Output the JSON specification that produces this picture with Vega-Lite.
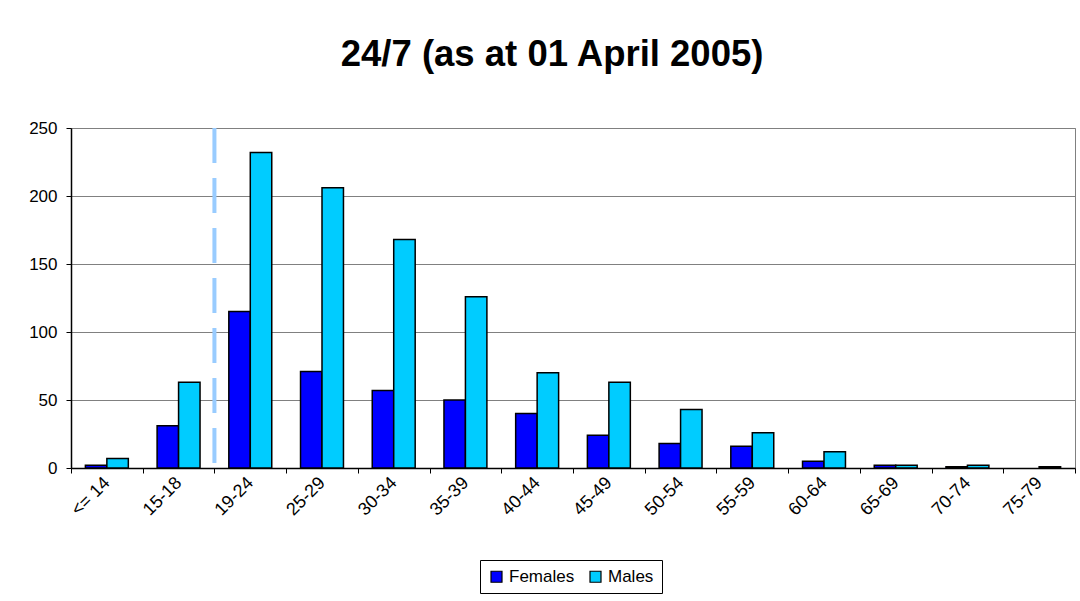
{
  "$schema": "https://vega.github.io/schema/vega-lite/v6.json",
  "width": 1004,
  "height": 340,
  "autosize": {"type": "none"},
  "padding": {"left": 71, "top": 128, "right": 5, "bottom": 133},
  "background": "white",
  "title": {
    "text": "24/7 (as at 01 April 2005)",
    "font": "Liberation Sans",
    "fontSize": 36.5,
    "fontWeight": "bold",
    "color": "black",
    "anchor": "middle",
    "frame": "bounds",
    "offset": 46
  },
  "config": {
    "view": {"stroke": "#808080", "strokeWidth": 1},
    "font": "Liberation Sans"
  },
  "layer": [
    {
      "data": {
        "values": [
          {"cat": "<= 14", "sex": "Females", "n": 2},
          {"cat": "<= 14", "sex": "Males", "n": 7},
          {"cat": "15-18", "sex": "Females", "n": 31},
          {"cat": "15-18", "sex": "Males", "n": 63},
          {"cat": "19-24", "sex": "Females", "n": 115},
          {"cat": "19-24", "sex": "Males", "n": 232},
          {"cat": "25-29", "sex": "Females", "n": 71},
          {"cat": "25-29", "sex": "Males", "n": 206},
          {"cat": "30-34", "sex": "Females", "n": 57},
          {"cat": "30-34", "sex": "Males", "n": 168},
          {"cat": "35-39", "sex": "Females", "n": 50},
          {"cat": "35-39", "sex": "Males", "n": 126},
          {"cat": "40-44", "sex": "Females", "n": 40},
          {"cat": "40-44", "sex": "Males", "n": 70},
          {"cat": "45-49", "sex": "Females", "n": 24},
          {"cat": "45-49", "sex": "Males", "n": 63},
          {"cat": "50-54", "sex": "Females", "n": 18},
          {"cat": "50-54", "sex": "Males", "n": 43},
          {"cat": "55-59", "sex": "Females", "n": 16},
          {"cat": "55-59", "sex": "Males", "n": 26},
          {"cat": "60-64", "sex": "Females", "n": 5},
          {"cat": "60-64", "sex": "Males", "n": 12},
          {"cat": "65-69", "sex": "Females", "n": 2},
          {"cat": "65-69", "sex": "Males", "n": 2},
          {"cat": "70-74", "sex": "Females", "n": 1},
          {"cat": "70-74", "sex": "Males", "n": 2},
          {"cat": "75-79", "sex": "Males", "n": 1}
        ]
      },
      "mark": {"type": "bar", "stroke": "black", "strokeWidth": 1.5},
      "encoding": {
        "x": {
          "field": "cat",
          "type": "nominal",
          "sort": ["<= 14", "15-18", "19-24", "25-29", "30-34", "35-39", "40-44", "45-49", "50-54", "55-59", "60-64", "65-69", "70-74", "75-79"],
          "scale": {"paddingInner": 0, "paddingOuter": 0},
          "axis": {
            "title": null,
            "labelAngle": -45,
            "labelAlign": "right",
            "labelBaseline": "middle",
            "labelFontSize": 18,
            "labelColor": "black",
            "labelPadding": 7,
            "domainColor": "black",
            "domainWidth": 1.5,
            "tickColor": "black",
            "tickBand": "extent",
            "tickSize": 5,
            "grid": false
          }
        },
        "xOffset": {
          "field": "sex",
          "type": "nominal",
          "scale": {"domain": ["Females", "Males"], "paddingInner": 0, "paddingOuter": 0.67}
        },
        "y": {
          "field": "n",
          "type": "quantitative",
          "scale": {"domain": [0, 250], "nice": false},
          "axis": {
            "title": null,
            "values": [0, 50, 100, 150, 200, 250],
            "labelFontSize": 17,
            "labelColor": "black",
            "labelPadding": 9,
            "domainColor": "black",
            "domainWidth": 1.5,
            "tickColor": "black",
            "tickSize": 5,
            "gridColor": "#808080",
            "gridWidth": 1
          }
        },
        "color": {
          "field": "sex",
          "type": "nominal",
          "scale": {"domain": ["Females", "Males"], "range": ["#0000FF", "#00CCFF"]},
          "legend": {
            "title": null,
            "orient": "none",
            "legendX": 409,
            "legendY": 432,
            "direction": "horizontal",
            "symbolType": "square",
            "symbolSize": 121,
            "symbolStrokeColor": "black",
            "symbolStrokeWidth": 1.2,
            "labelFontSize": 17,
            "labelColor": "black",
            "strokeColor": "black",
            "padding": 8,
            "columnPadding": 12
          }
        }
      }
    },
    {
      "data": {"values": [{"cat": "19-24"}]},
      "mark": {"type": "rule", "color": "#99CCFF", "strokeWidth": 4, "strokeDash": [35, 15]},
      "encoding": {
        "x": {
          "field": "cat",
          "type": "nominal",
          "bandPosition": 0,
          "sort": ["<= 14", "15-18", "19-24", "25-29", "30-34", "35-39", "40-44", "45-49", "50-54", "55-59", "60-64", "65-69", "70-74", "75-79"]
        }
      }
    }
  ]
}
